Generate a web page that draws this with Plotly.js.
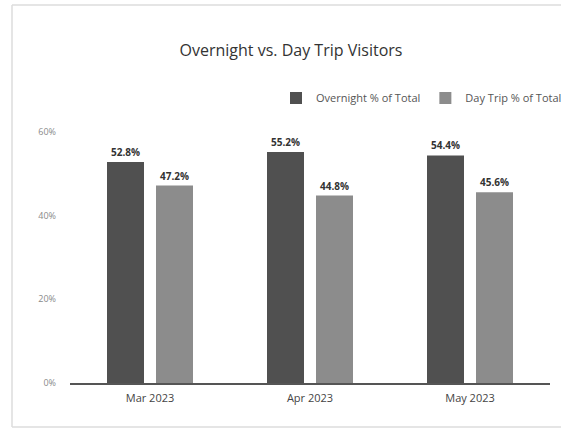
<!DOCTYPE html>
<html>
<head>
<meta charset="utf-8">
<script src="https://cdn.plot.ly/plotly-3.0.1.min.js"></script>
<style>html,body{margin:0;padding:0;background:#fff;}#chart{width:561px;height:429px;}</style>
</head>
<body>
<div id="chart"></div>
<script>
const categories = ["Mar 2023", "Apr 2023", "May 2023"];
const overnightPct = [52.8, 55.2, 54.4];
const dayTripPct = [47.2, 44.8, 45.6];
const seriesNames = ["Overnight % of Total", "Day Trip % of Total"];
const yTickValues = [0, 20, 40, 60];
const yTickLabels = ["0%", "20%", "40%", "60%"];

const W = 561, H = 429;
const L = 70, R = 11, T = 132, B = 46;
const pw = W - L - R, ph = H - T - B;
const px = p => (p - L) / pw;
const py = q => (H - B - q) / ph;

const common = {
  type: "bar",
  x: categories,
  texttemplate: "%{y:.1f}%",
  textposition: "outside",
  cliponaxis: false,
  textfont: {family: "Open Sans", size: 10, color: "#333333", weight: "bold"},
  hoverinfo: "skip"
};

const data = [
  Object.assign({}, common, {name: seriesNames[0], y: overnightPct, marker: {color: "#505050"}}),
  Object.assign({}, common, {name: seriesNames[1], y: dayTripPct, marker: {color: "#8c8c8c"}})
];

const border = {color: "#dddddd", width: 1.5};

const layout = {
  width: W, height: H,
  margin: {l: L, r: R, t: T, b: B, pad: 0, autoexpand: false},
  paper_bgcolor: "#ffffff",
  plot_bgcolor: "#ffffff",
  font: {family: "Open Sans", color: "#555555"},
  title: {
    text: "Overnight vs. Day Trip Visitors",
    font: {family: "Open Sans", size: 16, color: "#333333"},
    x: 291 / W, xref: "container", xanchor: "center",
    y: 1 - 50 / H, yref: "container", yanchor: "middle"
  },
  barmode: "group",
  bargap: 0.3875,
  bargroupgap: 0.245,
  showlegend: true,
  legend: {
    orientation: "h",
    x: px(276), xanchor: "left",
    y: py(98), yanchor: "middle",
    font: {family: "Open Sans", size: 11, color: "#555555"},
    bgcolor: "rgba(0,0,0,0)",
    traceorder: "normal"
  },
  xaxis: {
    type: "category",
    showline: true, linecolor: "#555555", linewidth: 1.5,
    showgrid: false, zeroline: false, ticks: "",
    tickfont: {family: "Open Sans", size: 11, color: "#444444"},
    ticklabelstandoff: 4,
    fixedrange: true
  },
  yaxis: {
    range: [0, 60],
    tickvals: yTickValues, ticktext: yTickLabels,
    showgrid: false, zeroline: false, showline: false, ticks: "",
    tickfont: {family: "Open Sans", size: 9, color: "#8a8a8a"},
    ticklabelstandoff: 13,
    fixedrange: true
  },
  shapes: [
    {type: "line", xref: "paper", yref: "paper", x0: px(12), x1: px(12), y0: py(427), y1: py(5), line: border, layer: "below"},
    {type: "line", xref: "paper", yref: "paper", x0: px(12), x1: px(561), y0: py(5), y1: py(5), line: border, layer: "below"},
    {type: "line", xref: "paper", yref: "paper", x0: px(12), x1: px(561), y0: py(427), y1: py(427), line: border, layer: "below"}
  ]
};

Plotly.newPlot("chart", data, layout, {displayModeBar: false, staticPlot: true});
</script>
</body>
</html>
